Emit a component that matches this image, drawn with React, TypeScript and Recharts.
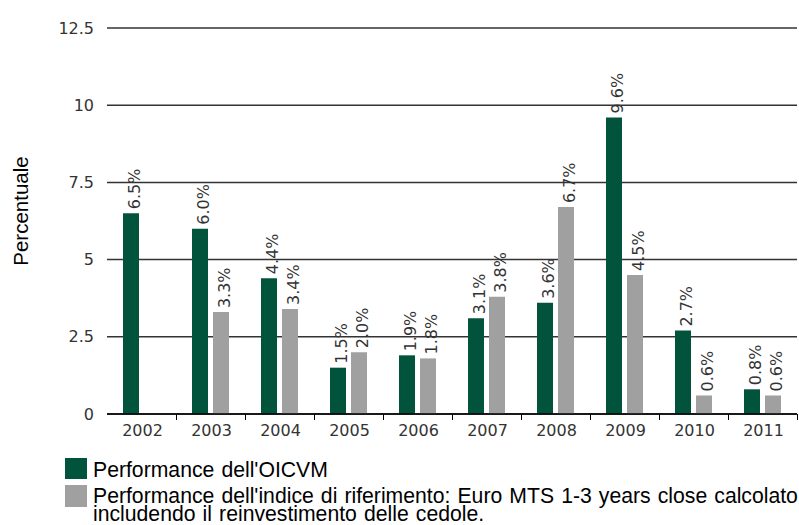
import { BarChart, Bar, XAxis, YAxis, CartesianGrid, LabelList, Label } from "recharts";

const YEARS = ["2002", "2003", "2004", "2005", "2006", "2007", "2008", "2009", "2010", "2011"];
const FUND = [6.5, 6.0, 4.4, 1.5, 1.9, 3.1, 3.6, 9.6, 2.7, 0.8];
const BENCHMARK = [null, 3.3, 3.4, 2.0, 1.8, 3.8, 6.7, 4.5, 0.6, 0.6];
const Y_TICKS = [0, 2.5, 5, 7.5, 10, 12.5];

const GREEN = "#02533b";
const GREY = "#a0a0a0";
const TICK_FONT = "'DejaVu Sans', Verdana, sans-serif";
const TEXT_FONT = "'Liberation Sans', Arial, sans-serif";

const data = YEARS.map((year, i) => ({
  year,
  fund: FUND[i],
  benchmark: BENCHMARK[i],
}));

// x-axis tick: label at category centre, tick mark on the category's right edge
function YearTick(props: any) {
  const { x, y, payload } = props;
  const half = payload?.offset ?? 34.5;
  const tx = Math.round(x + half) + 0.5;
  return (
    <g>
      <line x1={tx} x2={tx} y1={y} y2={y + 6} stroke="#000" />
      <text
        x={x + 1}
        y={y + 22}
        textAnchor="middle"
        fontFamily={TICK_FONT}
        fontSize={16}
        fill="#333"
      >
        {payload.value}
      </text>
    </g>
  );
}

function ValueLabel(props: any) {
  const { x, y, width, value } = props;
  if (value == null) return null;
  const bx = Number(x) + Number(width) / 2 + 9.5;
  const by = Number(y) - 4;
  return (
    <text
      x={bx}
      y={by}
      transform={`rotate(-90 ${bx} ${by})`}
      textAnchor="start"
      fontFamily={TICK_FONT}
      fontSize={16}
      fill="#333"
    >
      {`${Number(value).toFixed(1)}%`}
    </text>
  );
}

function AxisTitle(props: any) {
  const vb = props.viewBox || { x: 0, y: 28, width: 107, height: 386 };
  const lx = vb.x + 28;
  const ly = vb.y + vb.height / 2 - 10;
  return (
    <text
      x={lx}
      y={ly}
      transform={`rotate(-90 ${lx} ${ly})`}
      textAnchor="middle"
      fontFamily={TEXT_FONT}
      fontSize={20.5}
      fill="#000"
    >
      Percentuale
    </text>
  );
}

export default function App() {
  return (
    <div
      style={{
        position: "absolute",
        left: 0,
        top: 0,
        width: 799,
        height: 525,
        background: "#fff",
        overflow: "hidden",
      }}
    >
      <BarChart
        width={799}
        height={445}
        data={data}
        margin={{ top: 28, right: 2, left: 0, bottom: 0 }}
        barCategoryGap={16}
        barGap={5}
      >
        <CartesianGrid vertical={false} stroke="#333" strokeWidth={1.5} />
        <XAxis
          dataKey="year"
          height={31}
          tickSize={0}
          tickMargin={0}
          tickLine={false}
          axisLine={{ stroke: "#000", strokeWidth: 1.5 }}
          interval={0}
          tick={<YearTick />}
        />
        <YAxis
          width={107}
          domain={[0, 12.5]}
          ticks={Y_TICKS}
          axisLine={false}
          tickLine={false}
          tickSize={0}
          tickMargin={13}
          tick={{ fontFamily: TICK_FONT, fontSize: 16, fill: "#333" }}
        >
          <Label content={<AxisTitle />} />
        </YAxis>
        <Bar dataKey="fund" fill={GREEN} isAnimationActive={false}>
          <LabelList dataKey="fund" content={<ValueLabel />} />
        </Bar>
        <Bar dataKey="benchmark" fill={GREY} isAnimationActive={false}>
          <LabelList dataKey="benchmark" content={<ValueLabel />} />
        </Bar>
      </BarChart>

      {/* legend */}
      <div
        style={{
          position: "absolute",
          left: 65,
          top: 458,
          fontFamily: TEXT_FONT,
          fontSize: 21.2,
          wordSpacing: 1.2,
          color: "#000",
          whiteSpace: "nowrap",
        }}
      >
        <div style={{ display: "flex", alignItems: "flex-start", height: 27 }}>
          <div style={{ width: 22, height: 21, background: GREEN, flexShrink: 0 }} />
          <div style={{ marginLeft: 6, lineHeight: "21px", marginTop: 1 }}>
            Performance dell'OICVM
          </div>
        </div>
        <div style={{ display: "flex", alignItems: "flex-start" }}>
          <div style={{ width: 22, height: 22, background: GREY, flexShrink: 0 }} />
          <div style={{ marginLeft: 6, lineHeight: "17.5px", marginTop: 2 }}>
            Performance dell'indice di riferimento: Euro MTS 1-3 years close calcolato
            <br />
            includendo il reinvestimento delle cedole.
          </div>
        </div>
      </div>
    </div>
  );
}
